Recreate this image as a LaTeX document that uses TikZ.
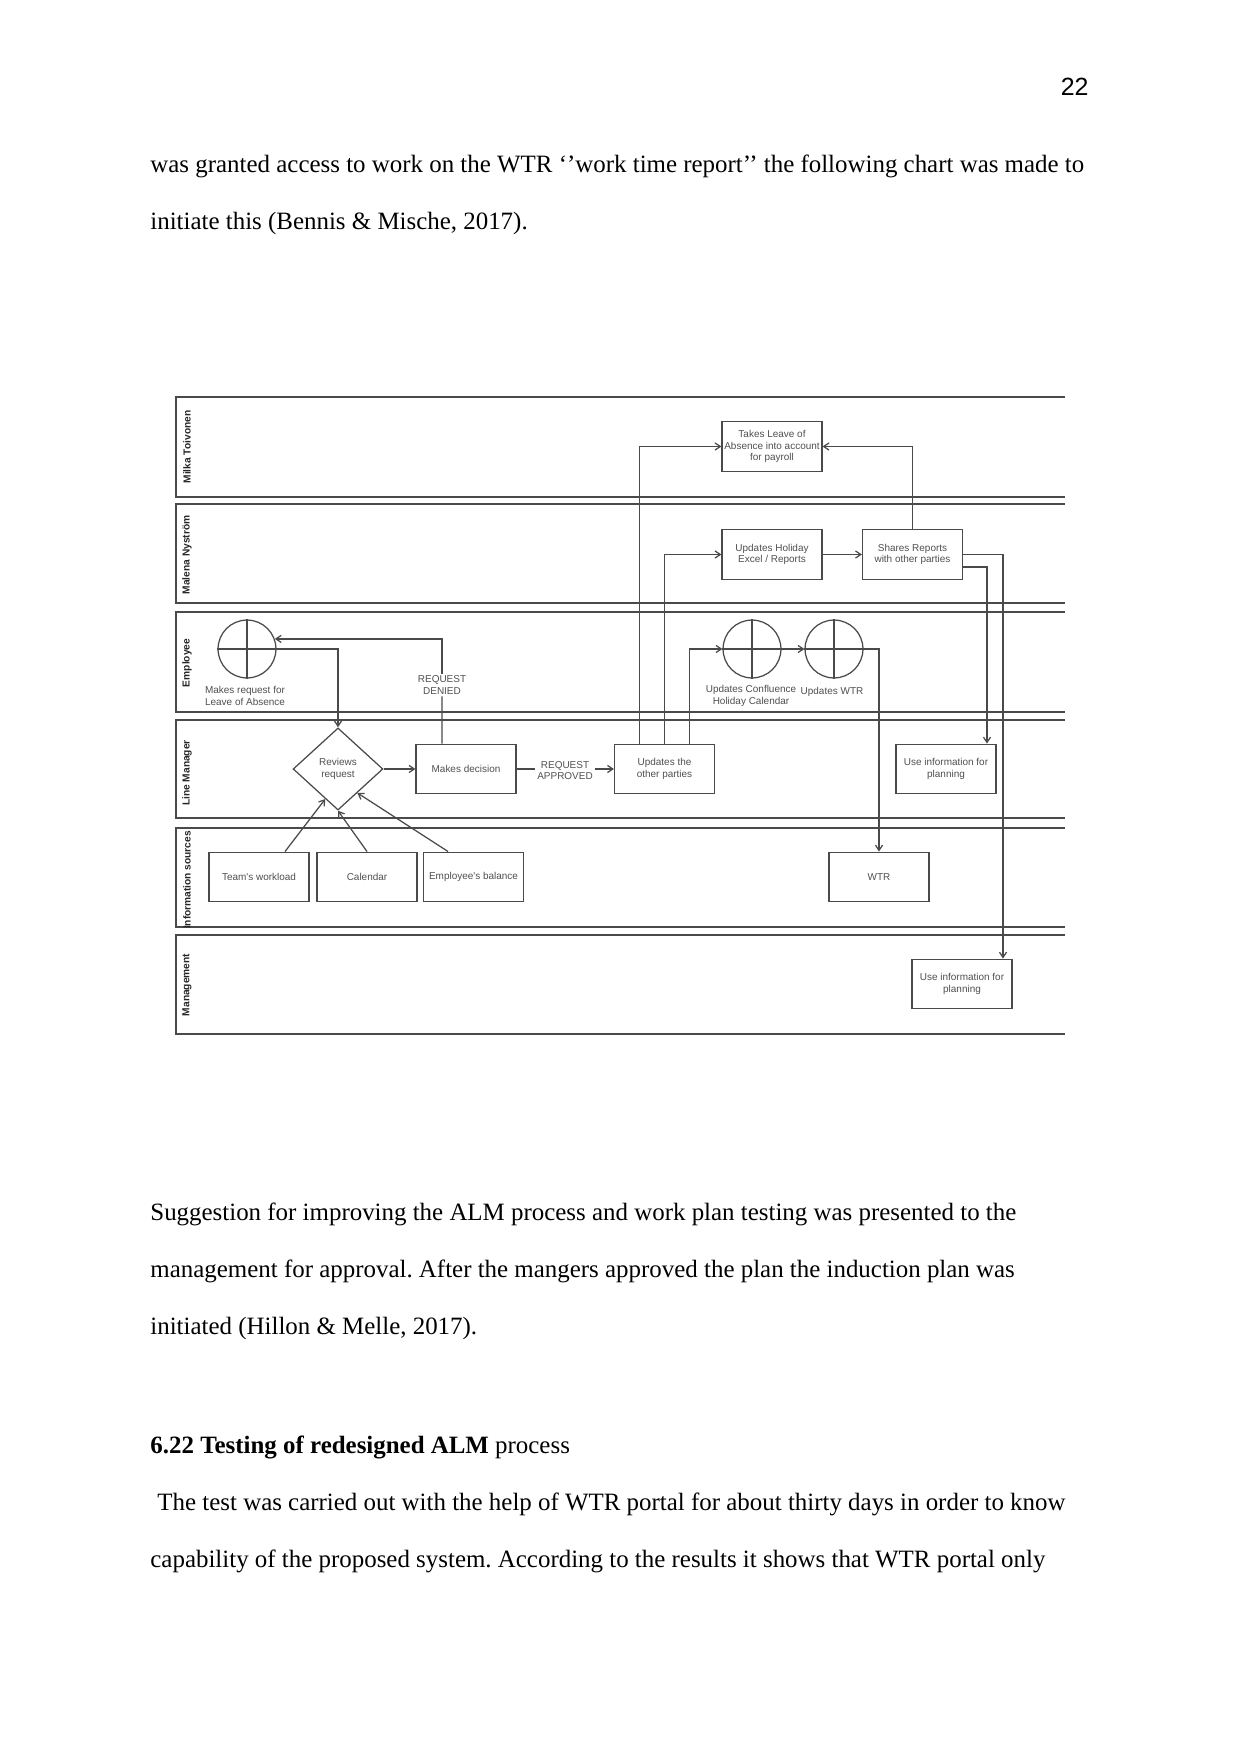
\documentclass[tikz,border=0pt]{standalone}
\usepackage{fontspec}
\setmainfont{Liberation Serif}
\newfontfamily\dsans{Liberation Sans}
\usetikzlibrary{arrows.meta,shapes.geometric,calc}
\definecolor{lc}{HTML}{4A4A4A}
\definecolor{tc}{HTML}{505050}
\frenchspacing
\tikzset{
  body/.style={anchor=base west, inner sep=0pt, font=\fontsize{12}{14}\selectfont},
  dfont/.style={font=\dsans\fontsize{4.8}{5.7}\selectfont, text=tc},
  box/.style={draw=lc, line width=0.6pt, minimum width=16.9mm, minimum height=8.4mm, inner sep=0pt, align=center, dfont},
  circ/.style={draw=lc, line width=0.6pt, circle, minimum size=9.8mm, inner sep=0pt},
  dia/.style={draw=lc, line width=0.6pt, diamond, minimum width=15.2mm, minimum height=13.9mm, inner sep=0pt, align=center, dfont},
  lbl/.style={align=center, inner sep=0.5pt, dfont},
  lbw/.style={align=center, inner sep=0.8pt, fill=white, dfont},
  lanebl/.style={rotate=90, inner sep=0pt, font=\dsans\bfseries\fontsize{4.9}{5.8}\selectfont, text=black!85},
  lane/.style={draw=lc, line width=0.7pt},
  conn/.style={draw=lc, line width=0.6pt},
  arr/.style={conn, -{Straight Barb[length=0.9mm,width=1.2mm]}},
}
\begin{document}
\begin{tikzpicture}[x=0.16922mm,y=-0.16922mm]
\useasboundingbox (0,0) rectangle (1241,1754);
\fill[white] (0,0) rectangle (1241,1754);

% page text
\node[anchor=base east, inner sep=0pt, font=\dsans\fontsize{12}{14}\selectfont] (pg) at (1089,96) {22};
\node[body] (t1) at (150,173) {was granted access to work on the WTR ‘’work time report’’ the following chart was made to};
\node[body] (t2) at (150,230) {initiate this (Bennis \& Mische, 2017).};
\node[body] (t3) at (150,1220) {Suggestion for improving the ALM process and work plan testing was presented to the};
\node[body] (t4) at (150,1277) {management for approval. After the mangers approved the plan the induction plan was};
\node[body] (t5) at (150,1334) {initiated (Hillon \& Melle, 2017).};
\node[body] (t6) at (150,1453) {\textbf{6.22 Testing of redesigned ALM} process};
\node[body] (t7) at (157,1510) {The test was carried out with the help of WTR portal for about thirty days in order to know};
\node[body] (t8) at (150,1567) {capability of the proposed system. According to the results it shows that WTR portal only};

% swimlanes
\foreach \a/\b in {397/497, 504/603, 612/712, 720/818, 828/927, 935/1034}{
  \draw[lane] (1065,\a) -- (176,\a) -- (176,\b) -- (1065,\b);
}
\node[lanebl] (ln1) at (187,447) {Milka Toivonen};
\node[lanebl] (ln2) at (187,555) {Malena Nyström};
\node[lanebl] (ln3) at (187,663) {Employee};
\node[lanebl] (ln4) at (187,773) {Line Manager};
\node[lanebl] (ln5) at (187,880) {Information sources};
\node[lanebl] (ln6) at (187,985) {Management};

% nodes
\node[box] (takes) at (772,446.5) {Takes Leave of\\Absence into account\\for payroll};
\node[box] (hol) at (772,554.5) {Updates Holiday\\Excel / Reports};
\node[box] (share) at (912.5,554.5) {Shares Reports\\with other parties};

\node[circ] (req) at (247,649) {};
\node[circ] (conf) at (752,649) {};
\node[circ] (wtrc) at (834,649) {};
\foreach \c in {req,conf,wtrc}{
  \draw[conn] (\c.north) -- (\c.south);
  \draw[conn] (\c.west) -- (\c.east);
}
\node[lbl] (reqt) at (245,696) {Makes request for\\Leave of Absence};
\node[lbl] (conft) at (751,696) {Updates Confluence\\Holiday Calendar};
\node[lbl, anchor=north] (wtrct) at (832,685.5) {Updates WTR};

\node[dia] (rev) at (338,769) {Reviews\\request};
\node[box] (dec) at (466,769) {Makes decision};
\node[box] (upd) at (664.5,769) {Updates the\\other parties};
\node[box] (lmuse) at (946,769) {Use information for\\planning};

\node[box] (team) at (259,877) {Team's workload};
\node[box] (cal) at (367,877) {Calendar};
\node[box] (bal) at (473.5,877) {Employee's balance};
\node[box] (wtr) at (879,877) {WTR};

\node[box] (mgmt) at (962,984) {Use information for\\planning};

% labels on connectors
\node[lbw] (denied) at (442,685) {REQUEST\\DENIED};
\node[lbw] (appr) at (565,770.5) {REQUEST\\APPROVED};

% connectors
\draw[arr] (req.east) -| (rev.north);
\draw[conn] ([xshift=-4.06mm]dec.north) -- (denied.south);
\draw[arr] (denied.north) |- (req.20);
\draw[arr] (rev.east) -- (dec.west);
\draw[conn] (dec.east) -- (appr.west |- dec.east);
\draw[arr] (appr.east |- upd.west) -- (upd.west);

\draw[arr] ([xshift=-4.23mm]upd.north) |- (takes.west);
\draw[arr] (upd.north) |- (hol.west);
\draw[arr] ([xshift=4.23mm]upd.north) |- (conf.west);
\draw[arr] (conf.east) -- (wtrc.west);
\draw[arr] (wtrc.east) -| (wtr.north);
\draw[arr] (hol.east) -- (share.west);
\draw[arr] (share.north) |- (takes.east);
\draw[arr] (share.east) -| ([xshift=6.94mm]mgmt.north);
\draw[arr] ([yshift=-2.1mm]share.east) -| ([xshift=6.94mm]lmuse.north);

\draw[arr] ([xshift=4.4mm]team.north) -- (rev.-113);
\draw[arr] (cal.north) -- (rev.south);
\draw[arr] ([xshift=-4.3mm]bal.north) -- (rev.-51);
\end{tikzpicture}
\end{document}
